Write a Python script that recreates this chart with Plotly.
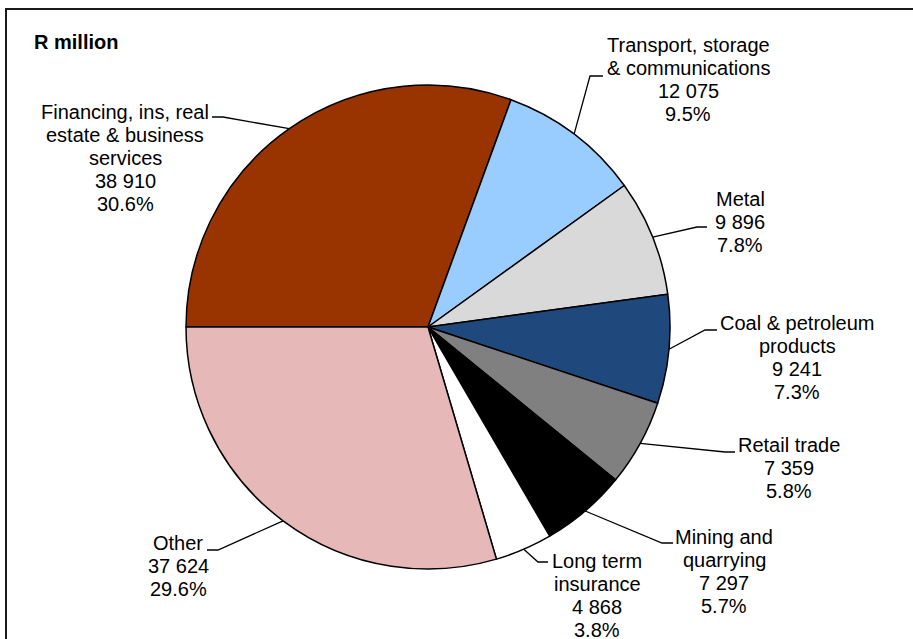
import math
import plotly.graph_objects as go

# ---- data ----
categories = [
    "Financing, ins, real\nestate & business\nservices",
    "Transport, storage\n& communications",
    "Metal",
    "Coal & petroleum\nproducts",
    "Retail trade",
    "Mining and\nquarrying",
    "Long term\ninsurance",
    "Other",
]
values = [38910, 12075, 9896, 9241, 7359, 7297, 4868, 37624]
colors = ["#993300", "#99CCFF", "#D9D9D9", "#1F497D", "#808080", "#000000", "#FFFFFF", "#E6B8B7"]
title_text = "R million"

# ---- layout (pixel space of the 913x639 page) ----
W, H = 913, 639
CX, CY, R = 428, 327, 242
ROTATION = 270  # first slice starts at 9 o'clock, clockwise
FONT = "Liberation Sans, Arial, sans-serif"
FS = 20
LINE_H = 23
# label text: centre x, first-line centre y
label_pos = [(125, 112), (688, 45), (740, 199), (797, 323), (789, 445), (724, 537), (597, 561), (178, 543)]
# leader elbows and ends near text
leader_elbow = [(223, 117), (590, 76), (697, 227), (705, 330), (725, 452), (662, 543), (538, 562), (218, 550)]
leader_end = [(212, 117), (603, 76), (707, 227), (717, 330), (735, 452), (673, 543), (548, 562), (207, 550)]

total = sum(values)

fig = go.Figure()
fig.add_trace(go.Pie(
    labels=[c.replace("\n", " ") for c in categories],
    values=values,
    sort=False,
    direction="clockwise",
    rotation=ROTATION,
    marker=dict(colors=colors, line=dict(color="#000000", width=1.5)),
    textinfo="none",
    hoverinfo="label+value+percent",
    showlegend=False,
    domain=dict(x=[(CX - R) / W, (CX + R) / W], y=[1 - (CY + R) / H, 1 - (CY - R) / H]),
))

annotations = []
shapes = []
cum = 0.0
for i, (cat, v) in enumerate(zip(categories, values)):
    mid = ROTATION + (cum + v / 2) / total * 360
    cum += v
    a = math.radians(mid)
    ex, ey = CX + R * math.sin(a), CY - R * math.cos(a)
    (bx, by), (tx, ty) = leader_elbow[i], leader_end[i]
    shapes.append(dict(type="path", xref="x", yref="y",
                       path=f"M {ex:.1f},{ey:.1f} L {bx},{by} L {tx},{ty}",
                       line=dict(color="#000000", width=1.3)))
    lines = cat.split("\n") + [f"{v:,}".replace(",", " "), f"{v / total * 100:.1f}%"]
    lx, ly = label_pos[i]
    for j, t in enumerate(lines):
        annotations.append(dict(x=lx, y=ly + j * LINE_H, xref="x", yref="y", text=t,
                                showarrow=False, xanchor="center", yanchor="middle",
                                font=dict(family=FONT, size=FS, color="#000000")))

annotations.append(dict(x=32, y=42, xref="x", yref="y", text=f"<b>{title_text}</b>",
                        showarrow=False, xanchor="left", yanchor="middle",
                        font=dict(family=FONT, size=FS, color="#000000")))

# chart frame
shapes.append(dict(type="rect", xref="x", yref="y", x0=6, y0=9, x1=W + 10, y1=H + 10,
                   line=dict(color="#1a1a1a", width=2), fillcolor="rgba(0,0,0,0)"))

fig.update_layout(
    width=W, height=H,
    margin=dict(l=0, r=0, t=0, b=0),
    paper_bgcolor="white", plot_bgcolor="white",
    xaxis=dict(range=[0, W], visible=False, fixedrange=True, domain=[0, 1]),
    yaxis=dict(range=[H, 0], visible=False, fixedrange=True, domain=[0, 1]),
    annotations=annotations,
    shapes=shapes,
)

fig.write_html("out.html", config={"displayModeBar": False},
               post_script="document.body.style.margin='0';document.body.style.overflow='hidden';")
